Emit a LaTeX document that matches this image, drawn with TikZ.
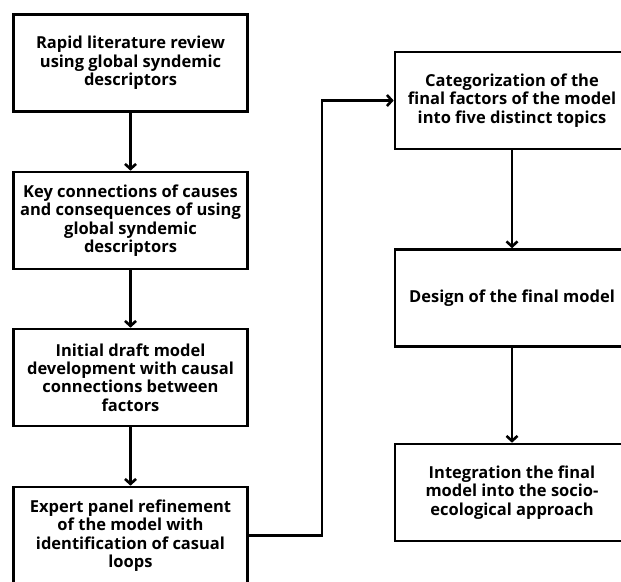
\documentclass[tikz,border=0pt]{standalone}
\usepackage{fontspec}
\setmainfont{Open Sans}
\usetikzlibrary{arrows.meta}
\begin{document}
\begin{tikzpicture}[x=1pt,y=1pt,
  box/.style={draw=black, line width=2.6pt, minimum width=234pt, minimum height=97pt,
    align=center, inner sep=0pt, font=\fontsize{16.5pt}{18.4pt}\selectfont\bfseries},
  arr/.style={line width=2.6pt, -{Straight Barb[length=5pt,width=11pt,line width=2.6pt]}}]
\clip (0,0) rectangle (621,-581);
\useasboundingbox (0,0) rectangle (621,-581);
\node[box] (b1) at (130.5,-63) {Rapid literature review\\using global syndemic\\descriptors};
\node[box] (b2) at (130.5,-220.5) {Key connections of causes\\and consequences of using\\global syndemic\\descriptors};
\node[box] (b3) at (130.5,-377.5) {Initial draft model\\development with causal\\connections between\\factors};
\node[box] (b4) at (130.5,-535.5) {Expert panel refinement\\of the model with\\identification of casual\\loops};
\node[box] (b5) at (512,-100.5) {Categorization of the\\final factors of the model\\into five distinct topics};
\node[box] (b6) at (512,-298) {Design of the final model};
\node[box] (b7) at (512,-492.5) {Integration the final\\model into the socio-\\ecological approach};
\coordinate (turn) at (322,0);
\draw[arr] (b1) -- (b2);
\draw[arr] (b2) -- (b3);
\draw[arr] (b3) -- (b4);
\draw[arr] (b4.east) -- (b4.east -| turn) |- (b5.west);
\draw[arr] (b5) -- (b6);
\draw[arr] (b6) -- (b7);
\end{tikzpicture}
\end{document}
